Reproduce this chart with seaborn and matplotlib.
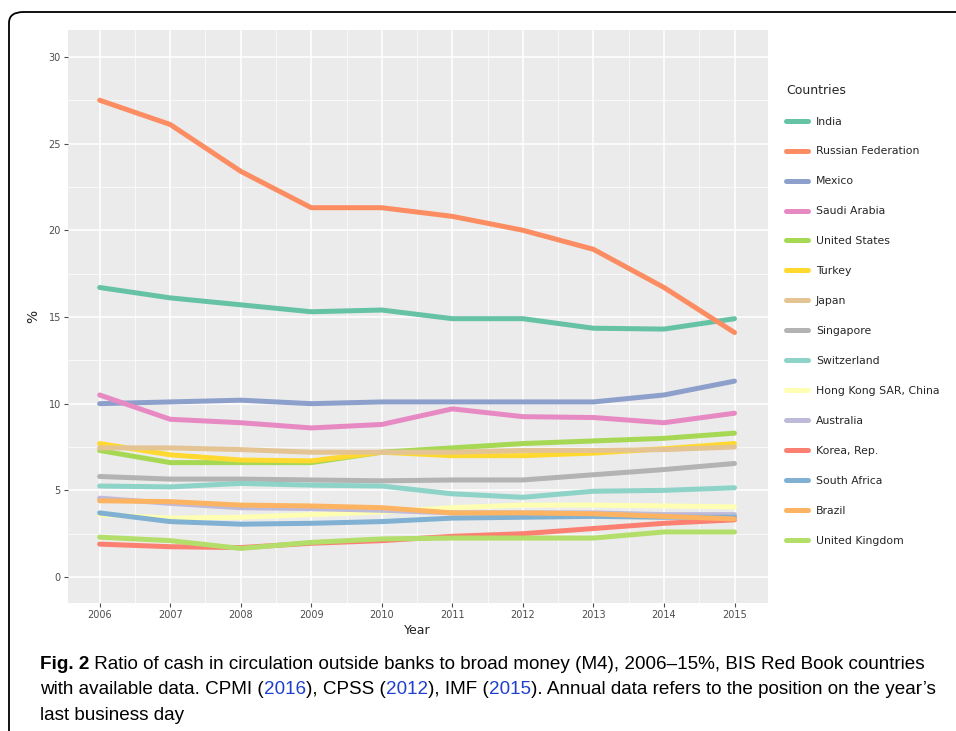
import pandas as pd
import matplotlib.pyplot as plt
import seaborn as sns
from matplotlib.patches import FancyBboxPatch

years = list(range(2006, 2016))

countries = ['India', 'Russian Federation', 'Mexico', 'Saudi Arabia', 'United States',
             'Turkey', 'Japan', 'Singapore', 'Switzerland', 'Hong Kong SAR, China',
             'Australia', 'Korea, Rep.', 'South Africa', 'Brazil', 'United Kingdom']

india = [16.7, 16.1, 15.7, 15.3, 15.4, 14.9, 14.9, 14.35, 14.3, 14.9]
russia = [27.5, 26.1, 23.4, 21.3, 21.3, 20.8, 20.0, 18.9, 16.7, 14.1]
mexico = [10.0, 10.1, 10.2, 10.0, 10.1, 10.1, 10.1, 10.1, 10.5, 11.3]
saudi = [10.5, 9.1, 8.9, 8.6, 8.8, 9.7, 9.25, 9.2, 8.9, 9.45]
usa = [7.3, 6.6, 6.6, 6.6, 7.2, 7.45, 7.7, 7.85, 8.0, 8.3]
turkey = [7.7, 7.05, 6.75, 6.7, 7.2, 7.0, 7.0, 7.15, 7.4, 7.7]
japan = [7.45, 7.45, 7.35, 7.2, 7.2, 7.2, 7.3, 7.3, 7.35, 7.5]
singapore = [5.8, 5.65, 5.65, 5.6, 5.55, 5.6, 5.6, 5.9, 6.2, 6.55]
switzerland = [5.25, 5.2, 5.4, 5.3, 5.25, 4.8, 4.6, 4.95, 5.0, 5.15]
hong_kong = [3.6, 3.4, 3.45, 3.6, 3.75, 4.0, 4.15, 4.15, 4.1, 4.05]
australia = [4.55, 4.25, 4.0, 3.95, 3.85, 3.7, 3.7, 3.7, 3.6, 3.6]
korea = [1.9, 1.75, 1.7, 1.95, 2.1, 2.35, 2.5, 2.8, 3.1, 3.3]
south_africa = [3.7, 3.2, 3.05, 3.1, 3.2, 3.4, 3.45, 3.5, 3.45, 3.45]
brazil = [4.4, 4.35, 4.15, 4.1, 4.0, 3.7, 3.7, 3.65, 3.5, 3.35]
uk = [2.3, 2.1, 1.65, 2.0, 2.2, 2.25, 2.25, 2.25, 2.6, 2.6]

series = [india, russia, mexico, saudi, usa, turkey, japan, singapore, switzerland,
          hong_kong, australia, korea, south_africa, brazil, uk]

colors = ['#66C2A5', '#FC8D62', '#8DA0CB', '#E78AC3', '#A6D854', '#FFD92F', '#E5C494',
          '#B3B3B3', '#8DD3C7', '#FFFFB3', '#BEBADA', '#FB8072', '#80B1D3', '#FDB462',
          '#B3DE69']
palette = dict(zip(countries, colors))

rows = []
for name, vals in zip(countries, series):
    for yr, v in zip(years, vals):
        rows.append({'Year': yr, 'Value': v, 'Countries': name})
df = pd.DataFrame(rows)

sns.set_style('darkgrid', {'axes.facecolor': '#EBEBEB', 'grid.color': 'white'})
plt.rcParams['font.family'] = ['DejaVu Sans']

fig = plt.figure(figsize=(9.56, 7.31), dpi=100)
ax = fig.add_axes([0.071, 0.175, 0.732, 0.784])

sns.lineplot(data=df, x='Year', y='Value', hue='Countries', hue_order=countries,
             palette=palette, linewidth=3.6, ax=ax, legend=False)

ax.set_xlim(2005.55, 2015.47)
ax.set_ylim(-1.5, 31.55)
ax.set_xticks(years)
ax.set_xticks([y + 0.5 for y in years[:-1]], minor=True)
ax.set_yticks([0, 5, 10, 15, 20, 25, 30])
ax.set_yticks([2.5, 7.5, 12.5, 17.5, 22.5, 27.5], minor=True)
ax.grid(which='major', color='white', linewidth=1.1)
ax.grid(which='minor', color='white', linewidth=0.5)
ax.tick_params(axis='both', which='major', labelsize=7, colors='#4D4D4D',
               length=3, width=0.8, pad=2, bottom=True, left=True)
ax.tick_params(axis='both', which='minor', length=0)
for s in ax.spines.values():
    s.set_visible(False)
ax.set_xlabel('Year', fontsize=9, color='#222222', labelpad=3)
ax.set_ylabel('%', fontsize=10, color='#222222', labelpad=6)

handles = [plt.Line2D([0], [0], color=c, linewidth=3.6) for c in colors]
leg = fig.legend(handles, countries, title='Countries', loc='upper left',
                 bbox_to_anchor=(0.812, 0.899), frameon=False, fontsize=7.8,
                 title_fontsize=9, handlelength=2.0, handletextpad=0.75,
                 labelspacing=1.84, alignment='left')

# figure caption, sized so the first line spans the same width as the reference
cap_font = ['Liberation Sans', 'DejaVu Sans']
lines = [
    [('Fig. 2', 'bold', 'black'),
     (' Ratio of cash in circulation outside banks to broad money (M4), 2006\u201315%, BIS Red Book countries', 'normal', 'black')],
    [('with available data. CPMI (', 'normal', 'black'), ('2016', 'normal', '#1F3FCF'),
     ('), CPSS (', 'normal', 'black'), ('2012', 'normal', '#1F3FCF'),
     ('), IMF (', 'normal', 'black'), ('2015', 'normal', '#1F3FCF'),
     ('). Annual data refers to the position on the year\u2019s', 'normal', 'black')],
    [('last business day', 'normal', 'black')],
]
fig.canvas.draw()
renderer = fig.canvas.get_renderer()

size = 13.0
probe = [fig.text(0, 0, t, fontsize=size, fontweight=w, family=cap_font) for t, w, c in lines[0]]
width = sum(p.get_window_extent(renderer=renderer).width for p in probe)
for p in probe:
    p.remove()
size = size * 888 / width

y_pos = [1 - 669 / 731, 1 - 694 / 731, 1 - 720 / 731]
for line, yy in zip(lines, y_pos):
    x = 40 / 956
    for txt, weight, col in line:
        t = fig.text(x, yy, txt, fontsize=size, fontweight=weight, color=col,
                     family=cap_font, va='baseline', ha='left')
        bb = t.get_window_extent(renderer=renderer)
        x += bb.width / fig.bbox.width

# rounded frame around the figure panel
frame = FancyBboxPatch((9 / 956, -0.05), 1.2, 1.05 - 12 / 731,
                       boxstyle='round,pad=0,rounding_size=0.015',
                       transform=fig.transFigure, fill=False,
                       edgecolor='black', linewidth=1.3)
fig.patches.append(frame)

fig.savefig('out.png', dpi=100)
